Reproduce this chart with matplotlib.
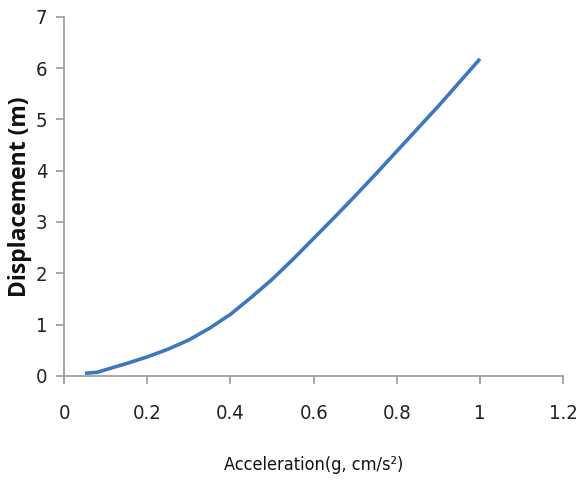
import matplotlib
matplotlib.use("Agg")
import matplotlib.pyplot as plt
from matplotlib import font_manager

accel = [0.05, 0.08, 0.1, 0.15, 0.2, 0.25, 0.3, 0.35, 0.4, 0.45, 0.5, 0.55, 0.6,
         0.65, 0.7, 0.75, 0.8, 0.85, 0.9, 0.95, 1.0]
displacement = [0.05, 0.07, 0.12, 0.24, 0.37, 0.52, 0.70, 0.93, 1.20, 1.53, 1.88, 2.27, 2.68,
                3.09, 3.51, 3.94, 4.38, 4.82, 5.26, 5.72, 6.18]

xticks = [0, 0.2, 0.4, 0.6, 0.8, 1, 1.2]
xticklabels = ["0", "0.2", "0.4", "0.6", "0.8", "1", "1.2"]
yticks = [0, 1, 2, 3, 4, 5, 6, 7]

cond = [f for f in font_manager.fontManager.ttflist
        if f.name == "DejaVu Sans" and f.stretch in ("condensed", 300, "semi-condensed")
        and f.weight in (400, "normal", "regular") and f.style == "normal"]
cond_path = cond[0].fname if cond else None

def tick_fp(size):
    if cond_path:
        return font_manager.FontProperties(fname=cond_path, size=size)
    return font_manager.FontProperties(family="Open Sans", size=size)

fig = plt.figure(figsize=(5.83, 4.8), dpi=100)
ax = fig.add_axes([0.110, 0.217, 0.856, 0.748])

ax.plot(accel, displacement, color="#3f76c0", lw=2.6, solid_capstyle="butt")

ax.set_xlim(0, 1.2)
ax.set_ylim(0, 7)
ax.set_xticks(xticks)
ax.set_xticklabels(xticklabels)
ax.set_yticks(yticks)

for s in ["top", "right"]:
    ax.spines[s].set_visible(False)
for s in ["left", "bottom"]:
    ax.spines[s].set_color("#9a9a9a")
    ax.spines[s].set_linewidth(1.2)

ax.tick_params(axis="both", colors="#9a9a9a", length=6, width=1.2, direction="out",
               labelcolor="#222222")
ax.tick_params(axis="x", pad=14)
ax.tick_params(axis="y", pad=6)
for lab in ax.get_xticklabels() + ax.get_yticklabels():
    lab.set_fontproperties(tick_fp(14.5))

ax.set_xlabel("Acceleration(g, cm/s²)", fontproperties=tick_fp(13), labelpad=24, color="#111111")
ax.set_ylabel("Displacement (m)", fontsize=16.5, family="Open Sans", fontweight="bold", labelpad=3, color="#111111")

fig.savefig("out.png", dpi=100)
